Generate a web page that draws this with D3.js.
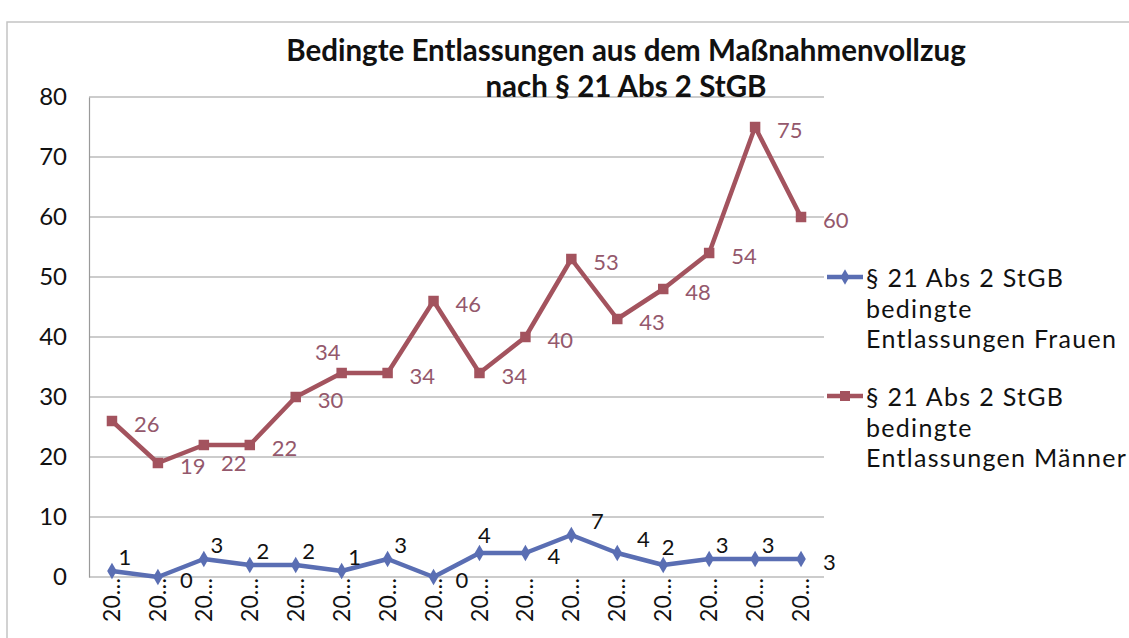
<!DOCTYPE html>
<html>
<head>
<meta charset="utf-8">
<script src="https://cdn.jsdelivr.net/npm/d3@7/dist/d3.min.js"></script>
<style>
  body { margin: 0; background: #fff; }
  svg text { font-family: Lato, "Open Sans", sans-serif; }
</style>
</head>
<body>
<svg id="chart" width="1129" height="638"></svg>
<script>
// Kategorien (Jahre, im Original abgeschnitten als "20…")
const xLabels = ['20…','20…','20…','20…','20…','20…','20…','20…','20…','20…','20…','20…','20…','20…','20…','20…'];
// Werte Frauen / Männer
const frauen  = [1, 0, 3, 2, 2, 1, 3, 0, 4, 4, 7, 4, 2, 3, 3, 3];
const maenner = [26, 19, 22, 22, 30, 34, 34, 46, 34, 40, 53, 43, 48, 54, 75, 60];
const yTicks = [0, 10, 20, 30, 40, 50, 60, 70, 80];
const legendFrauen  = ['§ 21 Abs 2 StGB', 'bedingte', 'Entlassungen Frauen'];
const legendMaenner = ['§ 21 Abs 2 StGB', 'bedingte', 'Entlassungen Männer'];
const titleLines = ['Bedingte Entlassungen aus dem Maßnahmenvollzug', 'nach § 21 Abs 2 StGB'];

// Lage der Datenbeschriftungen (r = rechts, tr = oben rechts, ...)
const frauenLabelPos  = ['tr','r','tr','tr','tr','tr','tr','r','t','r','ur','ur','t','tr','tr','r'];
const maennerLabelPos = ['r','r','br','r','r','tl','r','r','r','r','r','r','r','r','r','r'];

const blue = '#5a6eb3', red = '#a3535e', redText = '#94586c';

let svg = d3.select('#chart');

// Rahmen
svg.append('path')
    .attr('d', 'M7,638 V22 H1129')
    .attr('fill', 'none')
    .attr('stroke', '#c4c4c4')
    .attr('stroke-width', 1.5);

const plot = {left: 89, right: 824, top: 97, bottom: 577};

let x = d3.scaleBand()
    .domain(d3.range(xLabels.length))
    .range([plot.left, plot.right]);
let y = d3.scaleLinear()
    .domain([0, 80])
    .range([plot.bottom, plot.top]);

// Gitternetz
svg.append('g')
    .selectAll('line')
    .data(yTicks)
    .enter()
    .append('line')
    .attr('x1', plot.left).attr('x2', plot.right)
    .attr('y1', d => y(d)).attr('y2', d => y(d))
    .attr('stroke', '#9a9a9a')
    .attr('stroke-width', 1.2);

// y-Achse
let yAxis = svg.append('g')
    .attr('transform', `translate(${plot.left},0)`)
    .call(d3.axisLeft(y).tickValues(yTicks).tickSize(0).tickPadding(22));
yAxis.select('.domain').attr('stroke', '#9a9a9a').attr('stroke-width', 1.2);
yAxis.selectAll('text').attr('font-size', 24).attr('fill', '#111');

// x-Achse
let xAxis = svg.append('g')
    .attr('transform', `translate(0,${plot.bottom})`)
    .call(d3.axisBottom(x).tickSize(0).tickFormat(i => xLabels[i]));
xAxis.select('.domain').remove();
xAxis.selectAll('text')
    .attr('font-size', 23)
    .attr('fill', '#111')
    .attr('transform', 'rotate(-90)')
    .attr('text-anchor', 'end')
    .attr('x', -1)
    .attr('y', 0)
    .attr('dy', '0.35em');

const cx = i => x(i) + x.bandwidth() / 2;

function drawSeries(values, color, marker, labelPos, labelColor) {
    let line = d3.line().x((d, i) => cx(i)).y(d => y(d));
    svg.append('path')
        .datum(values)
        .attr('fill', 'none')
        .attr('stroke', color)
        .attr('stroke-width', 4.5)
        .attr('stroke-linejoin', 'round')
        .attr('d', line);

    svg.append('g')
        .selectAll('path')
        .data(values)
        .enter()
        .append('path')
        .attr('transform', (d, i) => `translate(${cx(i)},${y(d)})`)
        .attr('d', d3.symbol().type(marker).size(marker === d3.symbolSquare ? 110 : 80))
        .attr('fill', color);

    // Datenbeschriftungen
    const off = {
        r:  {dx: 22, dy: 2, a: 'start'},
        tr: {dx: 13, dy: -15, a: 'middle'},
        ur: {dx: 26, dy: -15, a: 'middle'},
        t:  {dx: 5, dy: -19, a: 'middle'},
        tl: {dx: -14, dy: -22, a: 'middle'},
        br: {dx: 30, dy: 17, a: 'middle'}
    };
    svg.append('g')
        .selectAll('text')
        .data(values)
        .enter()
        .append('text')
        .attr('x', (d, i) => cx(i) + off[labelPos[i]].dx)
        .attr('y', (d, i) => y(d) + off[labelPos[i]].dy)
        .attr('text-anchor', (d, i) => off[labelPos[i]].a)
        .attr('dominant-baseline', 'central')
        .attr('font-size', 22)
        .attr('fill', labelColor)
        .text(d => d);
}

drawSeries(maenner, red, d3.symbolSquare, maennerLabelPos, redText);
drawSeries(frauen, blue, d3.symbolDiamond, frauenLabelPos, '#111');

// Titel
svg.append('g')
    .selectAll('text')
    .data(titleLines)
    .enter()
    .append('text')
    .attr('x', 626)
    .attr('y', (d, i) => 49 + i * 36)
    .attr('text-anchor', 'middle')
    .attr('dominant-baseline', 'central')
    .attr('font-size', 29.5)
    .attr('font-weight', 'bold')
    .attr('fill', '#111')
    .text(d => d);

// Legende
function drawLegend(lines, color, marker, top) {
    let g = svg.append('g');
    g.append('line')
        .attr('x1', 827).attr('x2', 863)
        .attr('y1', top).attr('y2', top)
        .attr('stroke', color).attr('stroke-width', 4.5);
    g.append('path')
        .attr('transform', `translate(845,${top})`)
        .attr('d', d3.symbol().type(marker).size(marker === d3.symbolSquare ? 100 : 70))
        .attr('fill', color);
    g.selectAll('text')
        .data(lines)
        .enter()
        .append('text')
        .attr('x', 866)
        .attr('y', (d, i) => top + i * 30.5)
        .attr('dominant-baseline', 'central')
        .attr('font-size', 25)
        .attr('letter-spacing', 1.3)
        .attr('fill', '#111')
        .text(d => d);
}
drawLegend(legendFrauen, blue, d3.symbolDiamond, 277);
drawLegend(legendMaenner, red, d3.symbolSquare, 396);
</script>
</body>
</html>
